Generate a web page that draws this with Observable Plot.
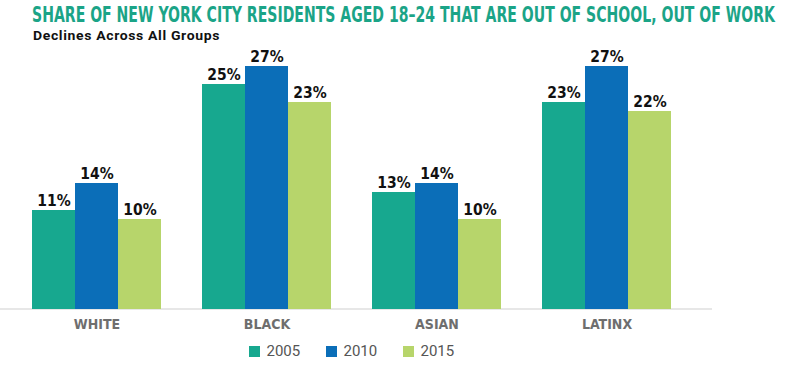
<!DOCTYPE html>
<html>
<head>
<meta charset="utf-8">
<script src="https://cdn.jsdelivr.net/npm/d3@7"></script>
<script src="https://cdn.jsdelivr.net/npm/@observablehq/plot@0.6"></script>
<style>
  html, body { margin: 0; padding: 0; background: #fff; }
  #wrap { position: relative; width: 800px; height: 367px; overflow: hidden; font-family: "Liberation Sans Narrow", "DejaVu Sans Condensed", "Roboto", sans-serif; }
  #title { position: absolute; left: 32px; top: 4px; font-size: 21px; font-weight: bold; color: #1ba487; white-space: nowrap; transform-origin: 0 0; line-height: 23px; }
  #subtitle { position: absolute; left: 33px; top: 28px; font-family: "Roboto", "Liberation Sans", sans-serif; font-size: 13px; font-weight: bold; color: #111; white-space: nowrap; transform-origin: 0 0; line-height: 16px; letter-spacing: 0.6px; }
  #chart { position: absolute; left: 0; top: 44px; }
  #legend { position: absolute; top: 342px; left: 0; display: flex; gap: 0; font-family: "Roboto", "Liberation Sans", sans-serif; font-size: 15px; color: #555; }
  .item { display: flex; align-items: center; width: 77px; }
  .sw { width: 11px; height: 11px; margin-right: 7px; }
  g[aria-label="fx-axis tick label"] text { font-weight: bold; fill: #6e6e6e; }
</style>
</head>
<body>
<div id="wrap">
  <div id="title">SHARE OF NEW YORK CITY RESIDENTS AGED 18–24 THAT ARE OUT OF SCHOOL, OUT OF WORK</div>
  <div id="subtitle">Declines Across All Groups</div>
  <div id="chart"></div>
  <div id="legend"></div>
</div>
<script>
const groups = ["WHITE", "BLACK", "ASIAN", "LATINX"];
const years = ["2005", "2010", "2015"];
const values2005 = [11, 25, 13, 23];
const values2010 = [14, 27, 14, 27];
const values2015 = [10, 23, 10, 22];
const colors = ["#17a88f", "#0b6eb8", "#b7d56b"];

const series = [values2005, values2010, values2015];
const data = [];
groups.forEach((g, i) => years.forEach((yr, j) => data.push({group: g, year: yr, value: series[j][i]})));

const plot = Plot.plot({
  width: 800,
  height: 296,
  marginTop: 22,
  marginBottom: 31,
  marginLeft: 29,
  marginRight: 126,
  style: {fontFamily: '"Liberation Sans Narrow", "DejaVu Sans Condensed", Roboto, sans-serif', background: "transparent"},
  fx: {domain: groups, paddingInner: 0.228, paddingOuter: 0, label: null},
  x: {domain: years, padding: 0, axis: null},
  y: {domain: [0, 27], axis: null},
  color: {domain: years, range: colors},
  marks: [
    Plot.axisFx({anchor: "bottom", tickSize: 0, tickPadding: 10, fontSize: 14, label: null}),
    Plot.barY(data, {fx: "group", x: "year", y: "value", fill: "year"}),
    Plot.text(data, {fx: "group", x: "year", y: "value", text: d => d.value + "%", lineAnchor: "bottom", dy: -5, fontSize: 15.5, fontWeight: "bold", fill: "#111"})
  ]
});
document.getElementById("chart").appendChild(plot);

// baseline spanning the chart area
const ys = plot.scale("y");
const fxs = plot.scale("fx");
const y0 = ys.apply(0);
const right = fxs.range[1] + 38;
d3.select(plot).insert("line", ":first-child")
  .attr("x1", 0).attr("x2", right)
  .attr("y1", y0).attr("y2", y0)
  .attr("stroke", "#cfcfcf").attr("stroke-width", 1.2);

// legend centred on the bar area
const legend = d3.select("#legend");
years.forEach((yr, i) => {
  const it = legend.append("div").attr("class", "item");
  it.append("div").attr("class", "sw").style("background", colors[i]);
  it.append("span").text(yr);
});
const lw = 77 * 3 - 25;
const center = (fxs.range[0] + fxs.range[1]) / 2;
document.getElementById("legend").style.left = (center - lw / 2) + "px";

// fit title widths to the reference
const t = document.getElementById("title");
t.style.transform = `scaleX(${743 / t.getBoundingClientRect().width})`;
const s = document.getElementById("subtitle");
s.style.transform = `scaleX(${187 / s.getBoundingClientRect().width})`;
</script>
</body>
</html>
